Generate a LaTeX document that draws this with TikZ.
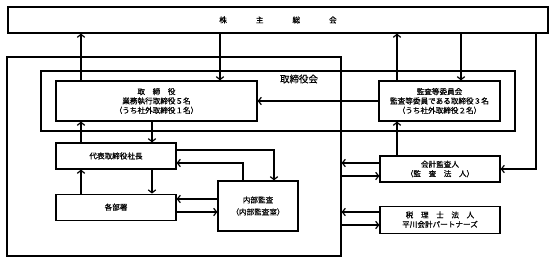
\documentclass[tikz,border=0pt]{standalone}
\usepackage{fontspec}
\setmainfont{Noto Sans CJK JP}[FakeBold=0.4]
\usetikzlibrary{positioning,arrows.meta}

\begin{document}
\begin{tikzpicture}[x=1pt,y=-1pt,node distance=24pt and 24pt,
    box/.style={draw,line width=1.2pt,align=center,inner sep=0pt,font=\fontsize{7.6}{9.4}\selectfont},
    arr/.style={line width=1.2pt,-{Straight Barb[length=3pt,width=7.5pt]}}]
\useasboundingbox (0,0) rectangle (555,264);
% columns and rows of the connectors
\coordinate (c1) at (81,0);  \coordinate (c2) at (220,0);  \coordinate (c3) at (397,0);
\coordinate (c4) at (461,0); \coordinate (c5) at (536,0);  \coordinate (c6) at (152,0);
\coordinate (c7) at (274,0); \coordinate (c8) at (243,0);
\coordinate (r2) at (0,150); \coordinate (r3) at (0,163);  \coordinate (r4) at (0,199);
\coordinate (r5) at (0,212); \coordinate (r6) at (0,176);  \coordinate (r7) at (0,225);
% frames
\node[box,minimum width=540pt,minimum height=26pt] (kabu) at (278,20) {株\hspace{29pt}主\hspace{29pt}総\hspace{29pt}会};
\node[box,minimum width=334pt,minimum height=199pt] (kaisha) at (174,156.5) {};
\node[box,minimum width=474pt,minimum height=60pt] (kai) at (278,101) {};
\node[font=\fontsize{9.5}{11}\selectfont] (kailabel) at (299,79) {取締役会};
% boxes
\node[box,minimum width=201pt,minimum height=40pt] (tori) at (156.5,101) {取　締　役\\業務執行取締役５名\\（うち社外取締役１名）};
\node[box,minimum width=121pt,minimum height=40pt] (kansa) at (439.5,101) {監査等委員会\\監査等委員である取締役３名\\（うち社外取締役２名）};
\node[box,minimum width=120pt,minimum height=26pt] (daihyo) at (116,156) {代表取締役社長};
\node[box,minimum width=120pt,minimum height=26pt,below=24pt of daihyo] (bu) {各部署};
\node[box,minimum width=80pt,minimum height=50pt,font=\fontsize{7.6}{12}\selectfont] (naibu) at (258,206) {内部監査\\（内部監査室）};
\node[box,minimum width=120pt,minimum height=26pt] (kaikei) at (440,169) {会計監査人\\（監　査　法　人）};
\node[box,minimum width=120pt,minimum height=27pt,below=23pt of kaikei] (zeiri) {税　理　士　法　人\\平川会計パートナーズ};
% connectors
\draw[arr] (tori.north -| c1) -- (kabu.south -| c1);
\draw[arr] (kabu.south -| c2) -- (tori.north -| c2);
\draw[arr] (kansa.north -| c3) -- (kabu.south -| c3);
\draw[arr] (kabu.south -| c4) -- (kansa.north -| c4);
\draw[arr] (kabu.south -| c5) |- (kaikei.east);
\draw[arr] (kansa.west) -- (tori.east);
\draw[arr] (tori.south -| c6) -- (daihyo.north -| c6);
\draw[arr] (daihyo.north -| c1) -- (tori.south -| c1);
\draw[arr] (daihyo.south -| c6) -- (bu.north -| c6);
\draw[arr] (bu.north -| c1) -- (daihyo.south -| c1);
\draw[arr] (daihyo.east |- r2) -| (naibu.north -| c7);
\draw[arr] (naibu.north -| c8) |- (daihyo.east |- r3);
\draw[arr] (naibu.west |- r4) -- (bu.east |- r4);
\draw[arr] (bu.east |- r5) -- (naibu.west |- r5);
\draw[arr] (kaikei.west |- r3) -- (kaisha.east |- r3);
\draw[arr] (kaisha.east |- r6) -- (kaikei.west |- r6);
\draw[arr] (zeiri.west |- r5) -- (kaisha.east |- r5);
\draw[arr] (kaisha.east |- r7) -- (zeiri.west |- r7);
\draw[arr] (kaikei.north -| c3) -- (kansa.south -| c3);
\end{tikzpicture}
\end{document}
